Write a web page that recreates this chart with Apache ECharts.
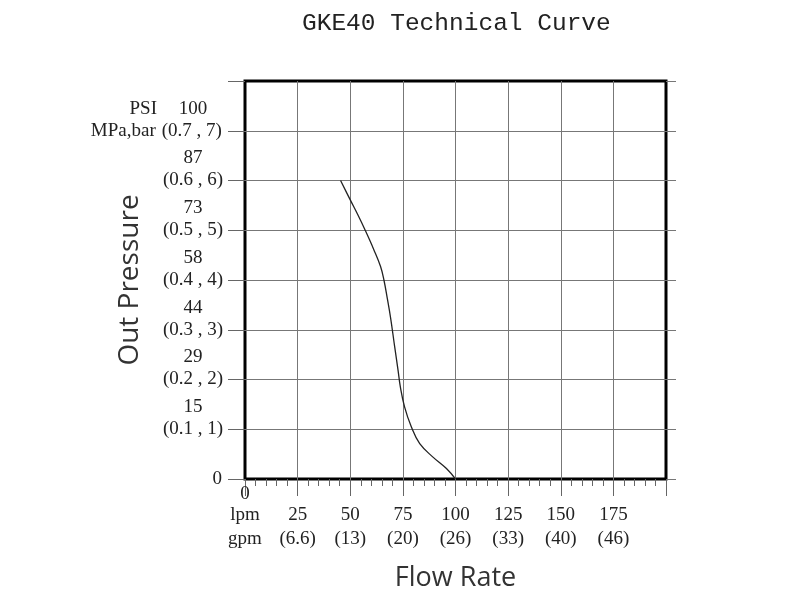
<!DOCTYPE html>
<html>
<head>
<meta charset="utf-8">
<title>GKE40 Technical Curve</title>
<script src="https://cdn.jsdelivr.net/npm/echarts@6/dist/echarts.min.js"></script>
<style>
  html, body { margin: 0; padding: 0; background: #fff; }
  #main { width: 800px; height: 600px; }
</style>
</head>
<body>
<div id="main"></div>
<script>
// curve: flow (lpm) / out pressure (bar)
var flowLpm = [45.4, 50, 53.6, 57.1, 61.2, 64.4, 66, 67.6, 69.2, 71.1, 72.7, 73.8, 75.8, 79, 83, 89.3, 95.7, 100];
var pressBar = [6, 5.61, 5.31, 5.0, 4.61, 4.27, 4.0, 3.63, 3.23, 2.66, 2.19, 1.85, 1.45, 1.05, 0.71, 0.44, 0.21, 0];

// tick labels
var psiLabels = ['0', '15', '29', '44', '58', '73', '87', '100'];
var mpaLabels = ['0', '(0.1 , 1)', '(0.2 , 2)', '(0.3 , 3)', '(0.4 , 4)', '(0.5 , 5)', '(0.6 , 6)', '(0.7 , 7)'];
var lpmTicks = [0, 25, 50, 75, 100, 125, 150, 175];
var gpmLabels = ['', '(6.6)', '(13)', '(20)', '(26)', '(33)', '(40)', '(46)'];

var curve = [];
for (var i = 0; i < flowLpm.length; i++) {
	curve.push([flowLpm[i], pressBar[i]]);
}

var serif = 'Liberation Serif';
var myChart = echarts.init(document.getElementById('main'));

myChart.setOption({
	animation: false,
	title: {
		text: 'GKE40 Technical Curve',
		left: 297,
		top: 6,
		textStyle: {
			fontFamily: 'Liberation Mono',
			fontSize: 24.5,
			fontWeight: 'normal',
			color: '#222'
		}
	},
	grid: {
		left: 245,
		right: 134,
		top: 81,
		bottom: 121,
		show: true,
		borderColor: '#000',
		borderWidth: 3,
		backgroundColor: 'transparent'
	},
	xAxis: {
		type: 'value',
		min: 0,
		max: 200,
		interval: 25,
		name: 'Flow Rate',
		nameLocation: 'middle',
		nameGap: 86,
		nameMoveOverlap: false,
		nameTextStyle: { fontFamily: 'Open Sans', fontSize: 27, color: '#333' },
		axisLine: { show: false },
		axisTick: { show: true, inside: false, length: 17, lineStyle: { color: '#666', width: 1 } },
		minorTick: { show: true, splitNumber: 5, length: 7, lineStyle: { color: '#666', width: 1 } },
		splitLine: { show: true, showMinLine: false, showMaxLine: false, lineStyle: { color: '#777', width: 1 } },
		axisLabel: {
			margin: 6,
			color: '#222',
			formatter: function(v) {
				var k = lpmTicks.indexOf(v);
				if (k < 0) return '';
				if (k === 0) return '{z|0}\n{n|lpm}\n{g|gpm}';
				return '{z| }\n{n|' + v + '}\n{g|' + gpmLabels[k] + '}';
			},
			rich: {
				z: { fontFamily: serif, fontSize: 19, lineHeight: 19, color: '#222' },
				n: { fontFamily: serif, fontSize: 19, lineHeight: 23, color: '#222' },
				g: { fontFamily: serif, fontSize: 19, lineHeight: 24, color: '#222' }
			}
		}
	},
	yAxis: [{
		type: 'value',
		min: 0,
		max: 8,
		interval: 1,
		name: 'Out Pressure',
		nameLocation: 'middle',
		nameGap: 101,
		nameMoveOverlap: false,
		nameTextStyle: { fontFamily: 'Open Sans', fontSize: 28, color: '#333' },
		axisLine: { show: false },
		axisTick: { show: true, inside: false, length: 17, lineStyle: { color: '#666', width: 1 } },
		splitLine: { show: true, showMinLine: false, showMaxLine: false, lineStyle: { color: '#777', width: 1 } },
		axisLabel: {
			margin: 20,
			padding: [0, 0, 22, 0],
			color: '#222',
			formatter: function(v) {
				if (v === 0) return '{a| }\n{z|0}';
				if (v > 7) return '';
				if (v === 7) return '{p|PSI}{a|' + psiLabels[v] + '}\n{u|MPa,bar}{b|' + mpaLabels[v] + '}';
				return '{a|' + psiLabels[v] + '}\n{b|' + mpaLabels[v] + '}';
			},
			rich: {
				a: { fontFamily: serif, fontSize: 19, lineHeight: 22, width: 64, align: 'center', color: '#222' },
				b: { fontFamily: serif, fontSize: 19, lineHeight: 22, width: 64, align: 'center', color: '#222' },
				p: { fontFamily: serif, fontSize: 19, lineHeight: 22, padding: [0, 4, 0, 40], color: '#222' },
				u: { fontFamily: serif, fontSize: 19, lineHeight: 22, padding: [0, 4, 0, 0], color: '#222' },
				z: { fontFamily: serif, fontSize: 19, lineHeight: 22, padding: [0, 3, 0, 0], color: '#222' }
			}
		}
	}, {
		// only used for the short tick stubs on the right side
		type: 'value',
		position: 'right',
		min: 0,
		max: 8,
		interval: 1,
		axisLine: { show: false },
		axisTick: { show: true, inside: false, length: 10, lineStyle: { color: '#777', width: 1 } },
		axisLabel: { show: false },
		splitLine: { show: false }
	}],
	series: [{
		name: 'curve',
		type: 'line',
		data: curve,
		smooth: 0.4,
		showSymbol: false,
		symbol: 'none',
		lineStyle: { color: '#222', width: 1.3 }
	}]
});
</script>
</body>
</html>
